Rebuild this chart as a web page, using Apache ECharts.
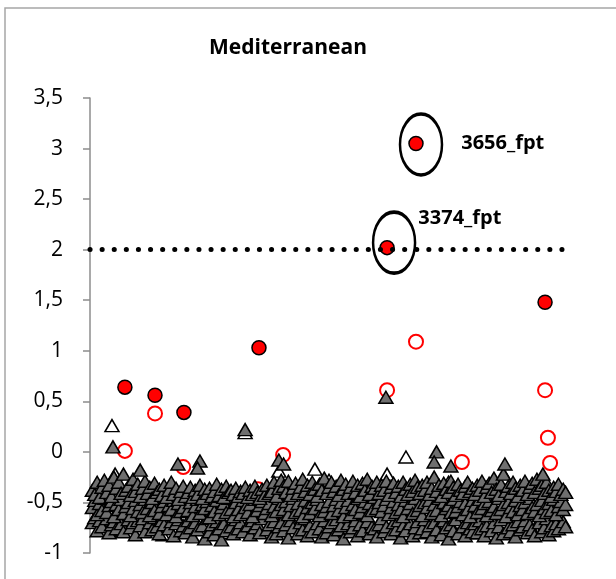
<!DOCTYPE html>
<html><head><meta charset="utf-8">
<script src="https://cdn.jsdelivr.net/npm/echarts@6/dist/echarts.min.js"></script>
<style>html,body{margin:0;padding:0;background:#fff}#c{width:616px;height:579px}</style>
</head><body><div id="c"></div>
<script>
// ---- data (x = sample index, y = score) ----
const yTicks = [-1, -0.5, 0, 0.5, 1, 1.5, 2, 2.5, 3, 3.5];
const threshold = 2;

// gray triangles: three layers, one value per sample index 1..200
const triTop = [
-0.38,-0.42,-0.30,-0.45,-0.35,-0.28,-0.40,-0.33,-0.44,-0.25,-0.36,-0.30,-0.41,-0.22,-0.38,-0.34,-0.43,-0.27,-0.39,-0.32,
-0.44,-0.36,-0.29,-0.41,-0.35,-0.46,-0.31,-0.40,-0.37,-0.43,-0.33,-0.45,-0.38,-0.30,-0.42,-0.36,-0.47,-0.39,-0.34,-0.44,
-0.40,-0.35,-0.45,-0.38,-0.42,-0.33,-0.46,-0.37,-0.41,-0.36,-0.44,-0.39,-0.32,-0.43,-0.37,-0.45,-0.34,-0.40,-0.38,-0.42,
-0.36,-0.44,-0.39,-0.41,-0.35,-0.45,-0.38,-0.42,-0.34,-0.40,-0.46,-0.37,-0.43,-0.33,-0.41,-0.39,-0.30,-0.44,-0.36,-0.28,
-0.34,-0.40,-0.29,-0.43,-0.36,-0.31,-0.41,-0.35,-0.27,-0.39,-0.33,-0.42,-0.30,-0.37,-0.44,-0.32,-0.38,-0.26,-0.41,-0.35,
-0.30,-0.39,-0.34,-0.43,-0.28,-0.37,-0.32,-0.41,-0.35,-0.29,-0.40,-0.33,-0.44,-0.31,-0.38,-0.27,-0.42,-0.34,-0.36,-0.30,
-0.41,-0.33,-0.38,-0.29,-0.43,-0.35,-0.31,-0.40,-0.34,-0.44,-0.30,-0.37,-0.42,-0.32,-0.39,-0.28,-0.35,-0.41,-0.33,-0.38,
-0.30,-0.42,-0.36,-0.25,-0.39,-0.33,-0.44,-0.31,-0.37,-0.40,-0.29,-0.35,-0.43,-0.32,-0.38,-0.41,-0.34,-0.30,-0.39,-0.36,
-0.42,-0.33,-0.38,-0.29,-0.44,-0.35,-0.31,-0.40,-0.26,-0.37,-0.43,-0.32,-0.22,-0.39,-0.34,-0.41,-0.30,-0.36,-0.44,-0.33,
-0.38,-0.29,-0.42,-0.35,-0.31,-0.40,-0.27,-0.36,-0.33,-0.41,-0.30,-0.38,-0.44,-0.35,-0.39,-0.32,-0.42,-0.37,-0.40,null
];
const triMid = [
-0.55,-0.48,-0.62,-0.51,-0.58,-0.46,-0.60,-0.53,-0.49,-0.64,-0.52,-0.57,-0.47,-0.61,-0.54,-0.50,-0.63,-0.56,-0.48,-0.59,
-0.52,-0.60,-0.47,-0.56,-0.63,-0.50,-0.58,-0.45,-0.61,-0.54,-0.49,-0.62,-0.53,-0.57,-0.48,-0.64,-0.51,-0.59,-0.55,-0.46,
-0.58,-0.50,-0.63,-0.54,-0.47,-0.61,-0.52,-0.56,-0.49,-0.65,-0.53,-0.59,-0.48,-0.62,-0.55,-0.51,-0.60,-0.46,-0.57,-0.64,
-0.50,-0.57,-0.62,-0.48,-0.55,-0.60,-0.52,-0.64,-0.47,-0.58,-0.53,-0.49,-0.61,-0.56,-0.51,-0.63,-0.54,-0.59,-0.46,-0.52,
-0.57,-0.49,-0.62,-0.53,-0.46,-0.60,-0.51,-0.58,-0.64,-0.48,-0.55,-0.61,-0.50,-0.56,-0.47,-0.63,-0.52,-0.59,-0.54,-0.49,
-0.61,-0.53,-0.47,-0.58,-0.50,-0.64,-0.55,-0.48,-0.62,-0.52,-0.57,-0.46,-0.60,-0.54,-0.49,-0.63,-0.51,-0.58,-0.45,-0.56,
-0.50,-0.59,-0.53,-0.47,-0.62,-0.55,-0.49,-0.60,-0.52,-0.57,-0.64,-0.48,-0.56,-0.51,-0.61,-0.46,-0.58,-0.53,-0.63,-0.50,
-0.55,-0.48,-0.61,-0.52,-0.58,-0.46,-0.63,-0.50,-0.56,-0.53,-0.60,-0.47,-0.59,-0.54,-0.49,-0.62,-0.51,-0.57,-0.64,-0.48,
-0.53,-0.60,-0.47,-0.56,-0.51,-0.63,-0.49,-0.58,-0.54,-0.61,-0.46,-0.57,-0.52,-0.64,-0.50,-0.55,-0.59,-0.48,-0.62,-0.53,
-0.57,-0.50,-0.61,-0.46,-0.55,-0.59,-0.52,-0.63,-0.48,-0.56,-0.60,-0.51,-0.58,-0.47,-0.62,-0.54,-0.49,-0.57,-0.52,null
];
const triBot = [
-0.70,-0.65,-0.78,-0.68,-0.74,null,-0.66,-0.80,-0.72,-0.69,-0.76,-0.64,-0.71,-0.79,null,-0.67,-0.75,-0.70,-0.82,-0.68,
-0.73,-0.66,-0.79,null,-0.70,-0.77,-0.65,-0.74,-0.81,-0.68,-0.72,null,-0.76,-0.69,-0.83,-0.71,-0.67,-0.78,-0.73,-0.80,
-0.68,-0.75,-0.84,-0.70,-0.77,null,-0.73,-0.86,-0.66,-0.79,-0.72,-0.82,-0.69,-0.76,-0.87,-0.71,-0.78,null,-0.74,-0.81,
-0.67,-0.76,-0.70,-0.79,null,-0.73,-0.82,-0.68,-0.75,-0.71,-0.80,-0.66,null,-0.77,-0.72,-0.84,-0.69,-0.81,-0.74,-0.70,
-0.78,-0.72,-0.85,-0.68,-0.75,null,-0.81,-0.70,-0.77,-0.66,-0.83,-0.73,-0.79,null,-0.71,-0.76,-0.84,-0.68,-0.80,-0.74,
-0.70,-0.82,-0.67,-0.77,-0.73,-0.86,null,-0.71,-0.79,-0.75,-0.68,-0.83,-0.72,-0.78,null,-0.69,-0.81,-0.74,-0.76,-0.84,
-0.72,-0.66,-0.79,-0.74,null,-0.81,-0.70,-0.77,-0.68,-0.85,-0.73,-0.78,null,-0.71,-0.83,-0.75,-0.69,-0.80,-0.76,-0.67,
-0.79,-0.73,-0.84,-0.70,-0.77,null,-0.82,-0.68,-0.75,-0.86,-0.72,-0.78,-0.67,-0.81,null,-0.74,-0.83,-0.70,-0.76,-0.79,
-0.71,-0.80,-0.68,-0.76,-0.83,-0.73,null,-0.78,-0.70,-0.85,-0.74,-0.67,-0.81,null,-0.75,-0.79,-0.72,-0.84,-0.69,-0.77,
-0.74,-0.68,-0.80,-0.72,-0.77,-0.83,null,-0.70,-0.79,-0.75,-0.66,-0.82,-0.73,-0.78,-0.71,-0.76,null,-0.69,-0.74,null
];
// gray triangle outliers [x, y]
const triGrayOut = [[9.6,0.05],[64.9,0.22],[123.8,0.54],[36.8,-0.12],[46,-0.09],[45,-0.16],[79,-0.08],[81,-0.12],[145,0.0],[151,-0.14],[173.6,-0.12],[189.5,-0.22],[21,-0.18],[144,-0.1]];
// white triangles [x, y]
const triWhite = [[9.2,0.26],[64.9,0.19],[132.2,-0.05],[94.1,-0.17],[124.3,-0.22],[10.5,-0.22],[79,-0.19],[9.6,-0.78],[11.7,-0.77],[30.5,-0.82],[58,-0.8],[104,-0.78],[160,-0.8],[186,-0.76],[150,-0.3],[174,-0.26],[100,-0.28]];
// red filled circles [x, y]
const redFilled = [[14.6,0.64],[27.2,0.56],[39.3,0.39],[70.7,1.03],[136.4,3.05],[124.3,2.02],[190.4,1.48],[53,-0.70],[81.6,-0.67],[132.6,-0.57],[154.8,-0.59],[190,-0.5]];
// red hollow circles [x, y]
const redHollow = [[14.6,0.01],[27.2,0.38],[39,-0.15],[80.8,-0.03],[124.3,0.61],[136.4,1.09],[155.6,-0.10],[190.4,0.61],[191.6,0.14],[192.5,-0.11],[70.3,-0.37],[189,-0.59],[4,-0.6]];
// annotated samples
const annotNames = ['3656_fpt', '3374_fpt'];
const annotPoints = [[136.4,3.05],[124.3,2.02]];

const FONT = '"Open Sans", Lato, sans-serif';
const layer = arr => arr.map((v, i) => [i + 1, v]).filter(p => p[1] !== null);

const chart = echarts.init(document.getElementById('c'), null, {renderer: 'canvas'});
const triStyle = {color: '#6f6f6f', borderColor: '#000', borderWidth: 1.5, opacity: 1};
const triSize = [14, 12];
chart.setOption({
  animation: false,
  backgroundColor: '#fff',
  title: {text: 'Mediterranean', left: 283, top: 33, textAlign: 'center',
    textStyle: {fontFamily: FONT, fontWeight: 'bold', fontSize: 21, color: '#000'}},
  grid: {left: 90, right: 48, top: 98, bottom: 26, containLabel: false},
  xAxis: {type: 'value', min: 0, max: 200, show: false},
  yAxis: {type: 'value', min: yTicks[0], max: yTicks[yTicks.length - 1], interval: 0.5,
    axisLine: {show: true, lineStyle: {color: '#8c8c8c', width: 1.5}},
    axisTick: {show: true, length: 7, lineStyle: {color: '#8c8c8c', width: 1.5}},
    splitLine: {show: false},
    axisLabel: {margin: 27, fontFamily: FONT, fontSize: 21, color: '#000',
      formatter: v => String(v).replace('.', ',')}},
  series: [
    {type: 'scatter', name: 'redHollow', data: redHollow, symbol: 'circle', symbolSize: 14,
      itemStyle: {color: '#fff', borderColor: '#ff0000', borderWidth: 2, opacity: 1}, z: 2},
    {type: 'scatter', name: 'redFilled', data: redFilled, symbol: 'circle', symbolSize: 14,
      itemStyle: {color: '#ff0000', borderColor: '#000', borderWidth: 1.5, opacity: 1}, z: 3,
      markLine: {silent: true, symbol: 'none', label: {show: false},
        lineStyle: {color: '#000', width: 5, type: [0.1, 12], cap: 'round', opacity: 1},
        data: [{yAxis: threshold}]}},
    {type: 'scatter', name: 'triWhite', data: triWhite, symbol: 'triangle', symbolSize: triSize,
      itemStyle: {color: '#fff', borderColor: '#000', borderWidth: 1.5, opacity: 1}, z: 4},
    {type: 'scatter', name: 'triBot', data: layer(triBot), symbol: 'triangle', symbolSize: triSize, itemStyle: triStyle, z: 5},
    {type: 'scatter', name: 'triMid', data: layer(triMid), symbol: 'triangle', symbolSize: triSize, itemStyle: triStyle, z: 5},
    {type: 'scatter', name: 'triTop', data: layer(triTop), symbol: 'triangle', symbolSize: triSize, itemStyle: triStyle, z: 5},
    {type: 'scatter', name: 'triGrayOut', data: triGrayOut, symbol: 'triangle', symbolSize: triSize, itemStyle: triStyle, z: 6},
    {type: 'scatter', name: 'annot', z: 7,
      data: [
        {value: annotPoints[0], name: annotNames[0], symbolOffset: [5, 1],
          label: {show: true, position: 'right', distance: 18, offset: [0, -1]}},
        {value: annotPoints[1], name: annotNames[1], symbolOffset: [7, -5],
          label: {show: true, position: 'right', distance: 6, offset: [-4, -24]}}
      ],
      symbol: 'circle', symbolSize: [42, 61],
      itemStyle: {color: 'rgba(0,0,0,0)', borderColor: '#000', borderWidth: 3, opacity: 1},
      label: {formatter: p => p.name, fontFamily: FONT, fontWeight: 'bold', fontSize: 20, color: '#000'}}
  ],
  graphic: [{type: 'rect', shape: {x: 5, y: 8, width: 700, height: 700},
    style: {fill: 'none', stroke: '#a6a6a6', lineWidth: 1.5}, z: -1, silent: true}]
});
</script></body></html>
